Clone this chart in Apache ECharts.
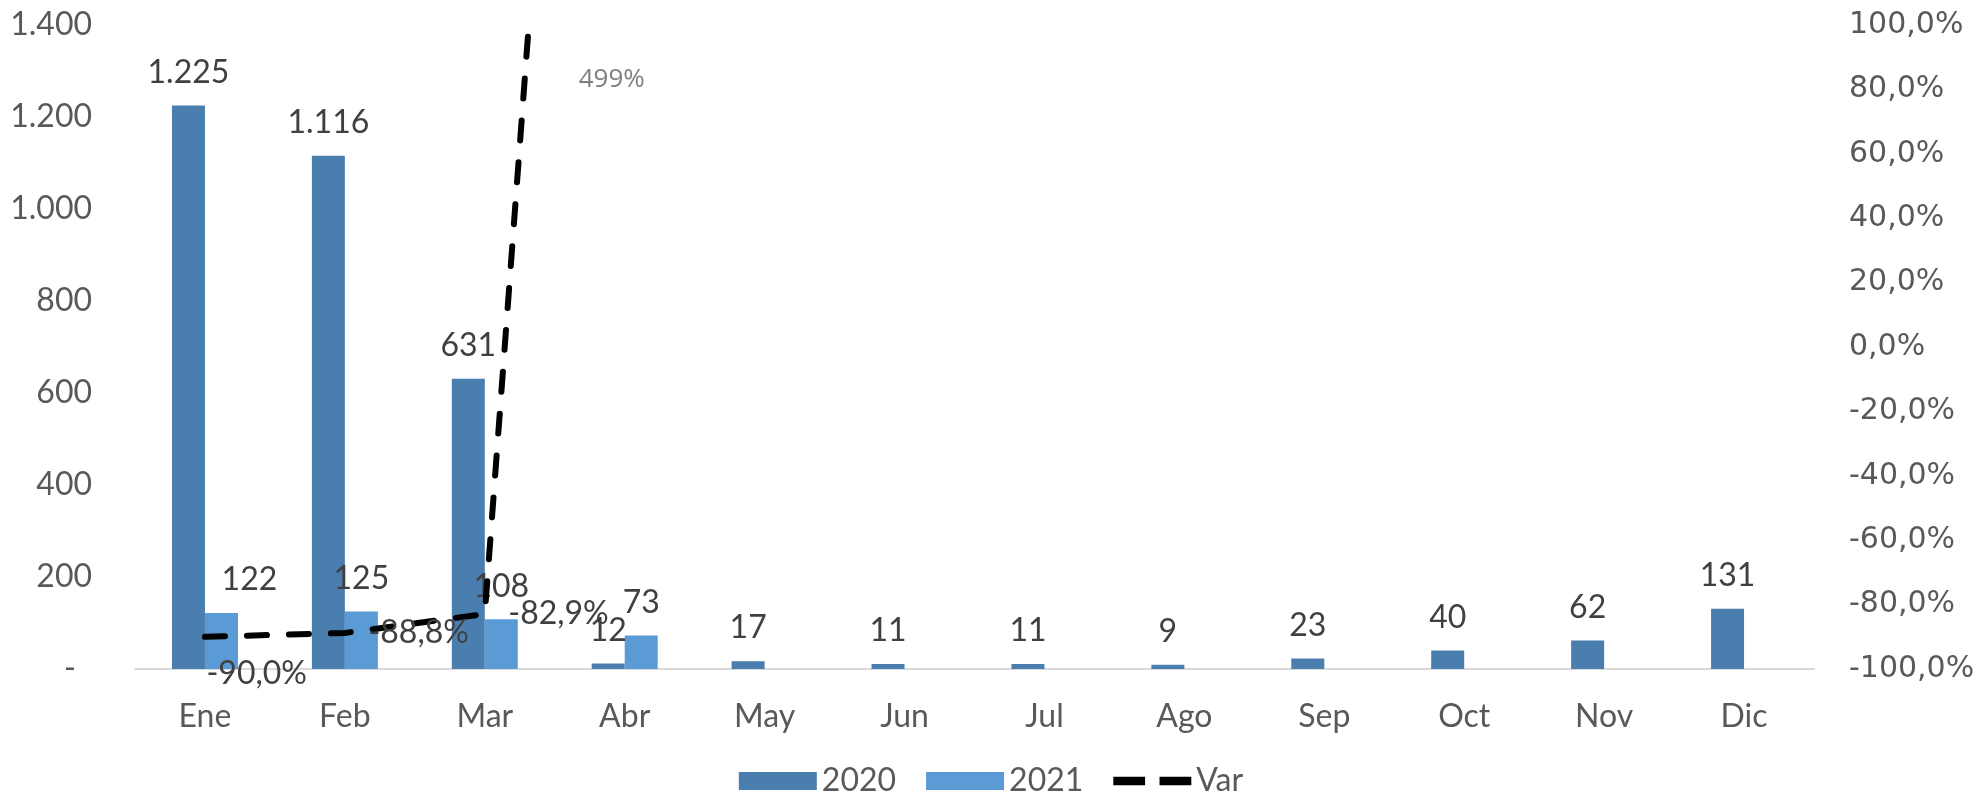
<!DOCTYPE html>
<html>
<head>
<meta charset="utf-8">
<script src="https://cdn.jsdelivr.net/npm/echarts@6/dist/echarts.min.js"></script>
<style>
html,body{margin:0;padding:0;background:#fff;}
#c{width:1982px;height:806px;}
</style>
</head>
<body>
<div id="c"></div>
<script>
const categories = ['Ene','Feb','Mar','Abr','May','Jun','Jul','Ago','Sep','Oct','Nov','Dic'];
const values2020 = [1225, 1116, 631, 12, 17, 11, 11, 9, 23, 40, 62, 131];
const values2021 = [122, 125, 108, 73, null, null, null, null, null, null, null, null];
const varPct = [-90.0, -88.8, -82.9, 499, null, null, null, null, null, null, null, null];
const seriesNames = ['2020', '2021', 'Var'];

const FONT = 'Lato';
function thousands(v) {
  return String(Math.round(v)).replace(/\B(?=(\d{3})+(?!\d))/g, '.');
}
function pct(v) {
  return v.toFixed(1).replace('.', ',') + '%';
}

const chart = echarts.init(document.getElementById('c'), null, {renderer: 'canvas'});

const bar2021Data = values2021.map((v, i) => {
  if (i === 0) return {value: v, label: {offset: [28, 0]}};
  return v;
});
const varData = varPct.map((v, i) => {
  if (i === 0) return {value: v, label: {position: 'right', distance: 1, offset: [0, 37]}};
  return v;
});

const option = {
  animation: false,
  backgroundColor: '#ffffff',
  grid: {left: 135, right: 168, top: 25, bottom: 137, containLabel: false},
  legend: {
    bottom: 4,
    left: 'center',
    itemWidth: 78,
    itemHeight: 18,
    itemGap: 30,
    textStyle: {fontFamily: FONT, fontSize: 32, color: '#595959'},
    data: [
      {name: seriesNames[0], icon: 'rect'},
      {name: seriesNames[1], icon: 'rect'},
      {name: seriesNames[2], icon: 'path://M0,0 L22,0 L22,6 L0,6 Z M32,0 L54,0 L54,6 L32,6 Z',
        itemStyle: {color: '#000000', borderWidth: 0}}
    ]
  },
  xAxis: {
    type: 'category',
    data: categories,
    axisLine: {lineStyle: {color: '#d9d9d9', width: 2}},
    axisTick: {show: false},
    axisLabel: {fontFamily: FONT, fontSize: 32, color: '#595959', margin: 32}
  },
  yAxis: [
    {
      type: 'value', min: 0, max: 1400, interval: 200,
      splitLine: {show: false},
      axisLine: {show: false}, axisTick: {show: false},
      axisLabel: {
        fontFamily: FONT, fontSize: 32, color: '#595959', margin: 43,
        formatter: v => v === 0 ? '{d|-}' : thousands(v),
        rich: {d: {fontFamily: FONT, fontSize: 32, color: '#595959', padding: [0, 16, 0, 0]}}
      }
    },
    {
      type: 'value', min: -100, max: 100, interval: 20,
      position: 'right',
      splitLine: {show: false},
      axisLine: {show: false}, axisTick: {show: false},
      axisLabel: {
        fontFamily: 'DejaVu Sans', fontSize: 30, color: '#595959', margin: 35,
        formatter: v => v.toFixed(1).replace('.', ',') + '%'
      }
    }
  ],
  series: [
    {
      name: seriesNames[0], type: 'bar', data: values2020,
      barWidth: 33, barGap: '0%',
      itemStyle: {color: '#4A7EAE'},
      label: {show: true, position: 'top', distance: 17, fontFamily: FONT, fontSize: 32, color: '#404040',
        formatter: p => thousands(p.value)}
    },
    {
      name: seriesNames[1], type: 'bar', data: bar2021Data,
      barWidth: 33, barGap: '0%',
      itemStyle: {color: '#5B9BD5'},
      label: {show: true, position: 'top', distance: 17, fontFamily: FONT, fontSize: 32, color: '#404040',
        formatter: p => p.value == null ? '' : thousands(p.value)}
    },
    {
      name: seriesNames[2], type: 'line', yAxisIndex: 1, data: varData,
      clip: true,
      symbol: 'circle', symbolSize: 1, showSymbol: true,
      connectNulls: false,
      z: 5,
      lineStyle: {color: '#000000', width: 6, type: [20, 22], cap: 'round'},
      itemStyle: {color: 'rgba(0,0,0,0)'},
      label: {show: true, position: 'right', distance: 23, fontFamily: FONT, fontSize: 32, color: '#404040',
        formatter: p => (p.value == null || p.value > 100) ? '' : pct(p.value)},
      markPoint: {
        symbol: 'circle', symbolSize: 0,
        data: [{coord: [3, 100], value: varPct[3]}],
        label: {show: true, position: 'inside', offset: [-13, 55], fontFamily: 'Open Sans', fontSize: 26, color: '#808080',
          formatter: p => Math.round(p.value) + '%'}
      }
    }
  ]
};
chart.setOption(option);
</script>
</body>
</html>
